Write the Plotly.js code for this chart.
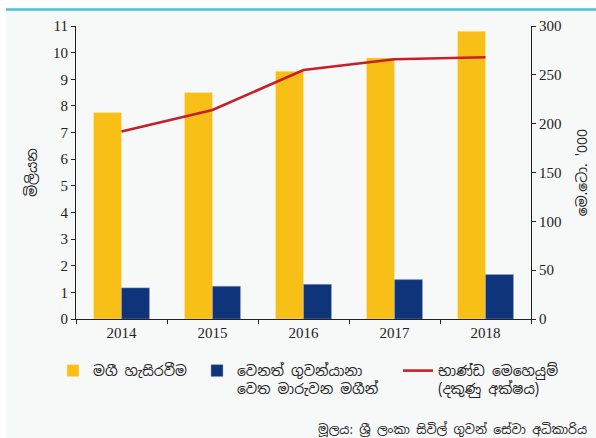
<!DOCTYPE html>
<html>
<head>
<meta charset="utf-8">
<script src="https://cdn.plot.ly/plotly-3.0.1.min.js"></script>
<style>html,body{margin:0;padding:0;background:#fff;}#chart{width:596px;height:438px;}</style>
</head>
<body>
<div id="chart"></div>
<script>
const years = ['2014', '2015', '2016', '2017', '2018'];
const passengersHandled = [7.75, 8.5, 9.3, 9.8, 10.8];
const transitPassengers = [1.17, 1.23, 1.3, 1.48, 1.67];
const cargoHandled = [192, 214, 255, 266, 268];

const nameHandled = 'මගී හැසිරවීම';
const nameTransit = 'වෙනත් ගුවන්යානා<br>වෙත මාරුවන මගීන්';
const nameCargo = 'භාණ්ඩ මෙහෙයුම්<br>(දකුණු අක්ෂය)';
const leftTitle = 'මිලියන';
const rightTitle = "මෙ.ටො. '000";
const sourceText = 'මූලය: ශ්‍රී ලංකා සිවිල් ගුවන් සේවා අධිකාරිය';

const sinhalaFont = '"Noto Sans Sinhala", "Noto Sans", sans-serif';
const serifFont = '"Liberation Serif", "DejaVu Serif", serif';

// pixel helpers for paper coords
const L = 76, R = 65, T = 26, B = 119, W = 596, H = 438;
const pw = W - L - R, ph = H - T - B;
const px = v => (v - L) / pw;
const py = v => (H - B - v) / ph;

const traces = [
  {type: 'bar', x: years, y: passengersHandled, name: nameHandled, legend: 'legend',
   marker: {color: '#f8bf17', line: {color: 'rgba(255,235,170,0.8)', width: 0.6}}, hoverinfo: 'skip'},
  {type: 'bar', x: years, y: transitPassengers, name: nameTransit, legend: 'legend2',
   marker: {color: '#10347a', line: {color: 'rgba(150,170,210,0.8)', width: 0.6}}, hoverinfo: 'skip'},
  {type: 'scatter', mode: 'lines', x: years, y: cargoHandled, name: nameCargo, yaxis: 'y2', legend: 'legend3',
   line: {color: '#c71f2a', width: 2.6}, hoverinfo: 'skip'}
];

const legendBase = {orientation: 'v', xanchor: 'left', yanchor: 'top', valign: 'top',
  bgcolor: 'rgba(0,0,0,0)', borderwidth: 0, font: {family: sinhalaFont, size: 14, color: '#222'}, tracegroupgap: 0};

const layout = {
  width: W, height: H,
  margin: {l: L, r: R, t: T, b: B, pad: 0},
  paper_bgcolor: '#ffffff', plot_bgcolor: 'rgba(0,0,0,0)',
  barmode: 'group', bargap: 0.385, bargroupgap: 0,
  showlegend: true,
  xaxis: {type: 'category', showline: true, linecolor: '#222', linewidth: 1, ticks: 'outside', ticklen: 4,
    tickcolor: '#222', tickson: 'boundaries', showgrid: false, zeroline: false,
    tickfont: {family: serifFont, size: 15, color: '#222'}},
  yaxis: {range: [0, 11], dtick: 1, showline: true, linecolor: '#222', linewidth: 1, ticks: 'outside', ticklen: 4,
    tickcolor: '#222', showgrid: false, zeroline: false, tickfont: {family: serifFont, size: 15, color: '#222'},
    title: {text: leftTitle, font: {family: sinhalaFont, size: 14, color: '#222'}, standoff: 12}},
  yaxis2: {range: [0, 300], dtick: 50, overlaying: 'y', side: 'right', showline: true, linecolor: '#222', linewidth: 1,
    ticks: 'outside', ticklen: 4, tickcolor: '#222', showgrid: false, zeroline: false,
    tickfont: {family: serifFont, size: 15, color: '#222'},
    title: {text: rightTitle, font: {family: sinhalaFont, size: 14, color: '#222'}, standoff: 16}},
  legend: Object.assign({}, legendBase, {x: px(53), y: py(355)}),
  legend2: Object.assign({}, legendBase, {x: px(197), y: py(355)}),
  legend3: Object.assign({}, legendBase, {x: px(398), y: py(355)}),
  shapes: [
    {type: 'rect', xref: 'paper', yref: 'paper', x0: px(6), x1: px(600), y0: py(440), y1: py(11),
     fillcolor: '#f7f9f9', line: {width: 0}, layer: 'below'},
    {type: 'line', xref: 'paper', yref: 'paper', x0: px(6), x1: px(600), y0: py(9.5), y1: py(9.5),
     line: {color: '#4dbdd0', width: 2.5}, layer: 'below'}
  ],
  annotations: [
    {text: sourceText, xref: 'paper', yref: 'paper', x: px(589), y: py(429), xanchor: 'right', yanchor: 'middle',
     showarrow: false, font: {family: sinhalaFont, size: 12.5, color: '#222'}}
  ]
};

Plotly.newPlot('chart', traces, layout, {staticPlot: true, displayModeBar: false});
</script>
</body>
</html>
